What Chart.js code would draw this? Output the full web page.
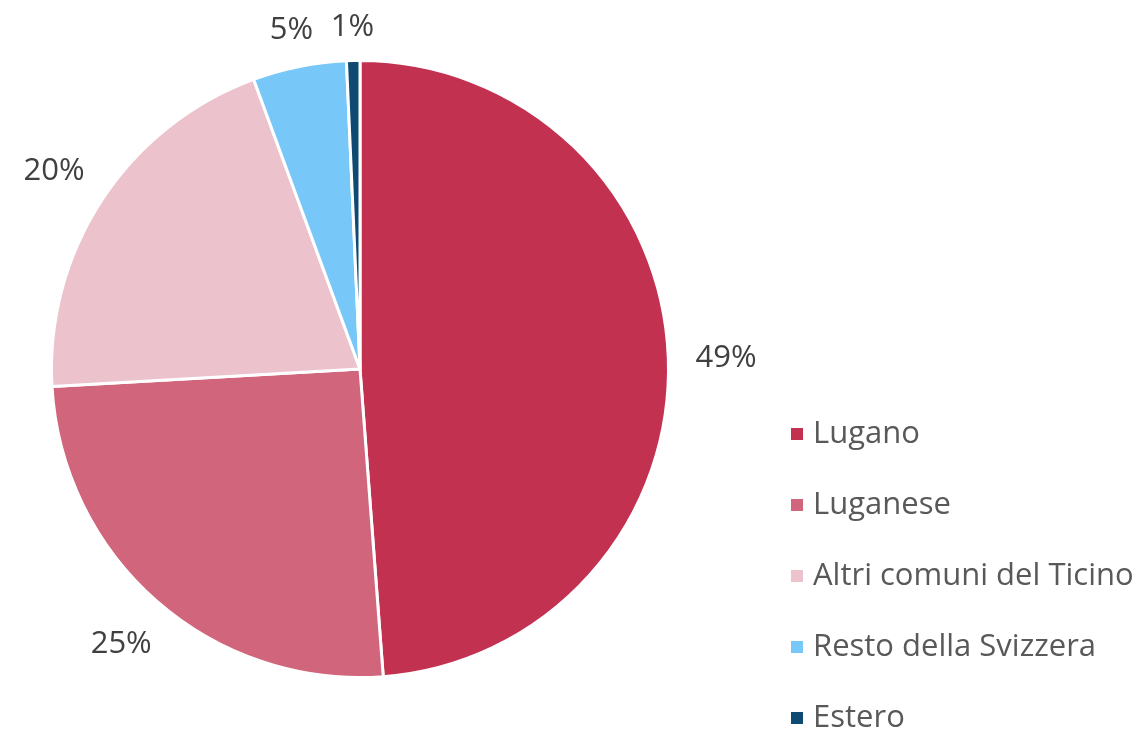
<!DOCTYPE html>
<html>
<head>
<meta charset="utf-8">
<script src="https://cdn.jsdelivr.net/npm/chart.js@4"></script>
<style>
  html, body { margin: 0; padding: 0; background: #fff; }
  #wrap { width: 1141px; height: 731px; position: relative; }
</style>
</head>
<body>
<div id="wrap"><canvas id="pieChart" width="1141" height="731"></canvas></div>
<script>
const categories = ['Lugano', 'Luganese', 'Altri comuni del Ticino', 'Resto della Svizzera', 'Estero'];
const shares = [48.8, 25.3, 20.3, 4.9, 0.7];
const pctLabels = ['49%', '25%', '20%', '5%', '1%'];
const colors = ['#C23150', '#D0657B', '#ECC2CC', '#77C8F9', '#0E4A72'];

const FONT = '"Open Sans", "Noto Sans", sans-serif';

// percentage labels outside each slice
const outsideLabels = {
  id: 'outsideLabels',
  afterDatasetsDraw(chart) {
    const ctx = chart.ctx;
    const meta = chart.getDatasetMeta(0);
    ctx.save();
    ctx.font = '31px ' + FONT;
    ctx.fillStyle = '#404040';
    ctx.textAlign = 'center';
    ctx.textBaseline = 'middle';
    meta.data.forEach((arc, i) => {
      const mid = (arc.startAngle + arc.endAngle) / 2;
      const ux = Math.cos(mid), uy = Math.sin(mid);
      const txt = pctLabels[i];
      const w = ctx.measureText(txt).width;
      const h = 18;
      const d = arc.outerRadius + 27 + Math.abs(ux) * w / 2 + Math.abs(uy) * h / 2;
      ctx.fillText(txt, arc.x + ux * d, arc.y + uy * d + 3);
    });
    ctx.restore();
  }
};

// legend at lower right
const sideLegend = {
  id: 'sideLegend',
  afterDraw(chart) {
    const ctx = chart.ctx;
    ctx.save();
    ctx.font = '31px ' + FONT;
    ctx.textBaseline = 'middle';
    categories.forEach((name, i) => {
      const y = 434 + i * 71;
      ctx.fillStyle = colors[i];
      ctx.fillRect(791, y - 6, 12, 12);
      ctx.fillStyle = '#595959';
      ctx.fillText(name, 813, y);
    });
    ctx.restore();
  }
};

new Chart(document.getElementById('pieChart').getContext('2d'), {
  type: 'pie',
  data: {
    labels: categories,
    datasets: [{
      data: shares,
      backgroundColor: colors,
      borderColor: '#ffffff',
      borderWidth: 3
    }]
  },
  options: {
    responsive: false,
    animation: false,
    layout: { padding: { top: 59, bottom: 52, left: 50, right: 471 } },
    plugins: {
      legend: { display: false },
      tooltip: { enabled: false }
    }
  },
  plugins: [outsideLabels, sideLegend]
});
</script>
</body>
</html>
